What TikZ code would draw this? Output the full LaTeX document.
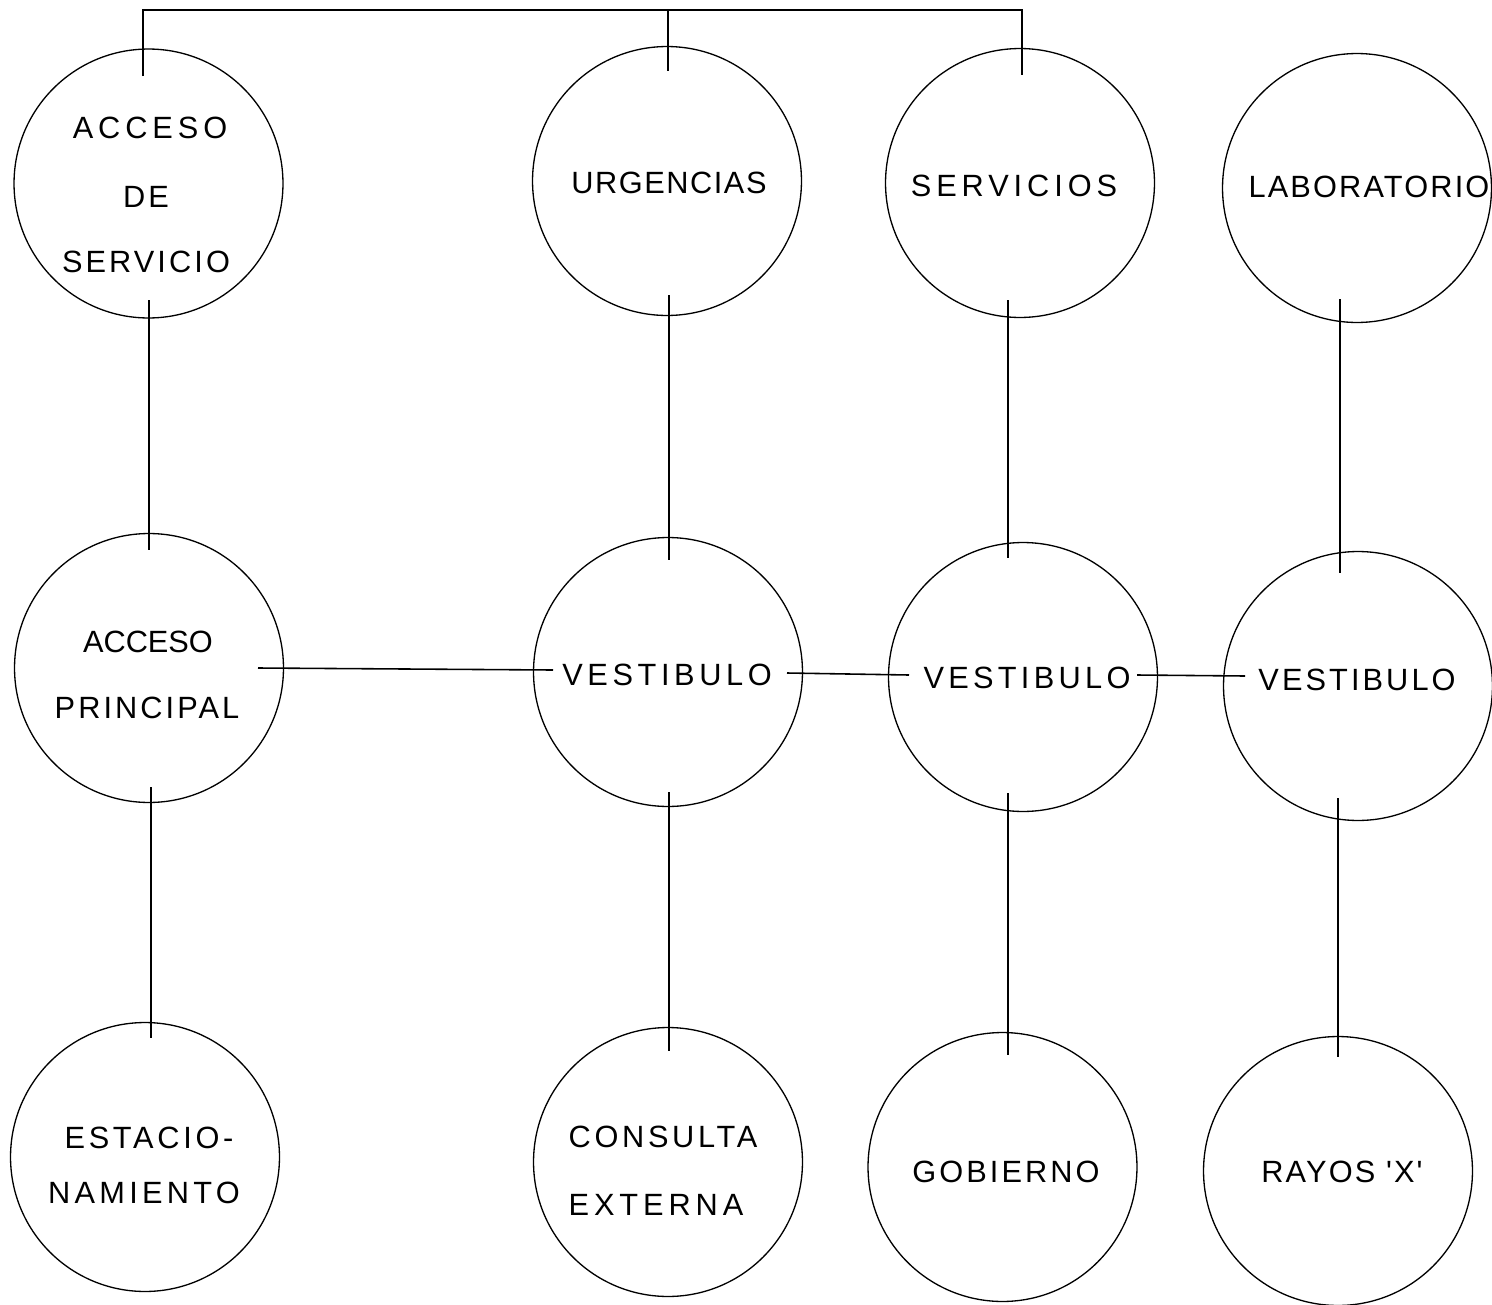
\documentclass[tikz,border=0pt]{standalone}
\usepackage{fontspec}
\newfontfamily\labfont{Liberation Sans}
\newcommand{\lsp}[2]{{\addfontfeature{LetterSpace=#1}#2}}
\begin{document}
\begin{tikzpicture}[x=0.02cm,y=-0.02cm,
  room/.style={circle,draw,line width=0.75pt,minimum size=5.38cm,inner sep=0pt},
  lbl/.style={inner sep=0pt,font=\labfont\fontsize{17.5}{21}\selectfont},
  link/.style={line width=0.9pt}]
\useasboundingbox (0,0) rectangle (1492,1305);

% circles
\node[room] (a1) at (148.5,183.5) {};
\node[room] (b1) at (667,181) {};
\node[room] (c1) at (1020,183) {};
\node[room] (d1) at (1357,188) {};
\node[room] (a2) at (149,668) {};
\node[room] (b2) at (668,672) {};
\node[room] (c2) at (1023,677) {};
\node[room] (d2) at (1358,686) {};
\node[room] (a3) at (145,1157) {};
\node[room] (b3) at (668,1162) {};
\node[room] (c3) at (1002.5,1167) {};
\node[room] (d3) at (1338,1171) {};

% labels
\node[lbl] (ta1a) at (150,128) {\lsp{16}{ACCESO}};
\node[lbl] (ta1b) at (146,197) {\lsp{10}{DE}};
\node[lbl] (ta1c) at (146,262) {\lsp{10}{SERVICIO}};
\node[lbl] (tb1) at (669,183) {\lsp{5}{URGENCIAS}};
\node[lbl] (tc1) at (1014,186) {\lsp{16}{SERVICIOS}};
\node[lbl] (td1) at (1369,187) {\lsp{7}{LABORATORIO}};
\node[lbl] (ta2a) at (148,642) {ACCESO};
\node[lbl] (ta2b) at (147,708) {\lsp{10}{PRINCIPAL}};
\node[lbl] (tb2) at (667,675) {\lsp{15}{VESTIBULO}};
\node[lbl] (tc2) at (1027,678) {\lsp{14}{VESTIBULO}};
\node[lbl] (td2) at (1357,680) {\lsp{10}{VESTIBULO}};
\node[lbl] (ta3a) at (149,1138) {\lsp{12}{ESTACIO-}};
\node[lbl] (ta3b) at (144,1193) {\lsp{14}{NAMIENTO}};
\node[lbl] (tb3a) at (663,1137) {\lsp{12}{CONSULTA}};
\node[lbl] (tb3b) at (656,1205) {\lsp{16}{EXTERNA}};
\node[lbl] (tc3) at (1006,1172) {\lsp{10}{GOBIERNO}};
\node[lbl] (td3) at (1342,1172) {\lsp{7}{RAYOS 'X'}};

% connector end points
\coordinate (p1) at (143,76);
\coordinate (p2) at (668,71);
\coordinate (p3) at (1022,75);
\coordinate (q1) at (143,10);
\coordinate (q2) at (668,10);
\coordinate (q3) at (1022,10);

\coordinate (a1s) at (149,300);  \coordinate (a2n) at (149,550);
\coordinate (a2s) at (151,787);  \coordinate (a3n) at (151,1038);
\coordinate (b1s) at (669,295);  \coordinate (b2n) at (669,560);
\coordinate (b2s) at (669,792);  \coordinate (b3n) at (669,1051);
\coordinate (c1s) at (1008,300); \coordinate (c2n) at (1008,558);
\coordinate (c2s) at (1008,793); \coordinate (c3n) at (1008,1055);
\coordinate (d1s) at (1340,299); \coordinate (d2n) at (1340,573);
\coordinate (d2s) at (1338,798); \coordinate (d3n) at (1338,1057);

\coordinate (a2e) at (258,668);  \coordinate (b2w) at (553,670);
\coordinate (b2e) at (787,673);  \coordinate (c2w) at (909,675);
\coordinate (c2e) at (1137,675); \coordinate (d2w) at (1245,676);

% top bracket
\draw[link] (p1) -- (q1) -- (q2) -- (q3) -- (p3);
\draw[link] (q2) -- (p2);

% vertical links
\draw[link] (a1s) -- (a2n);
\draw[link] (a2s) -- (a3n);
\draw[link] (b1s) -- (b2n);
\draw[link] (b2s) -- (b3n);
\draw[link] (c1s) -- (c2n);
\draw[link] (c2s) -- (c3n);
\draw[link] (d1s) -- (d2n);
\draw[link] (d2s) -- (d3n);

% horizontal links
\draw[link] (a2e) -- (b2w);
\draw[link] (b2e) -- (c2w);
\draw[link] (c2e) -- (d2w);
\end{tikzpicture}
\end{document}
